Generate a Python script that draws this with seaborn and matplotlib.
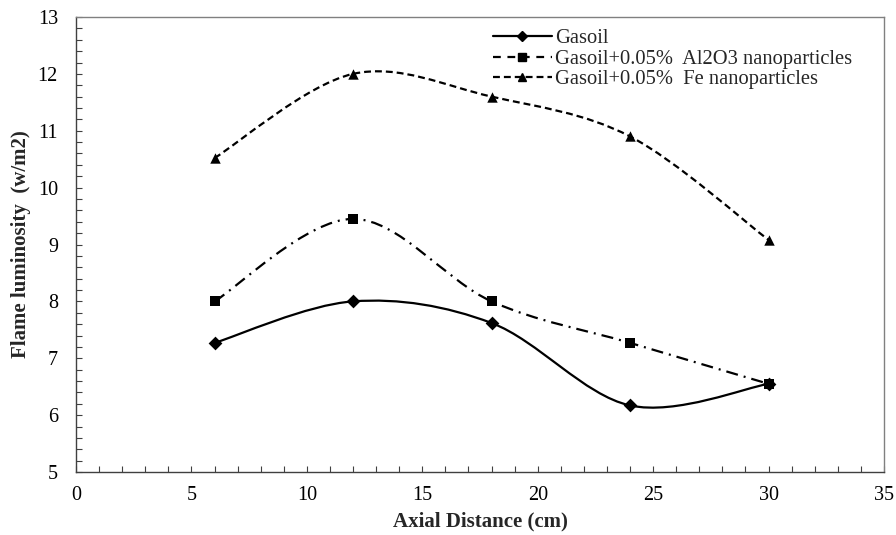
import numpy as np
import pandas as pd
import matplotlib
matplotlib.use("Agg")
import matplotlib.pyplot as plt
import seaborn as sns
from matplotlib.path import Path
from matplotlib.patches import PathPatch
from matplotlib.lines import Line2D
from matplotlib.ticker import MultipleLocator

# values
distance = [6, 12, 18, 24, 30]
gasoil = [7.27, 8.0, 7.62, 6.17, 6.55]
gasoil_al2o3 = [8.0, 9.45, 8.0, 7.27, 6.55]
gasoil_fe = [10.52, 12.0, 11.6, 10.9, 9.08]

labels = ["Gasoil", "Gasoil+0.05%  Al2O3 nanoparticles", "Gasoil+0.05%  Fe nanoparticles"]


def smooth_path(xs, ys):
    # Excel-like smoothed line: cubic Bezier segments through the points
    pts = np.column_stack([xs, ys]).astype(float)
    n = len(pts)
    verts = [pts[0]]
    codes = [Path.MOVETO]
    for i in range(n - 1):
        p0 = pts[i - 1] if i > 0 else pts[i]
        p1 = pts[i]
        p2 = pts[i + 1]
        p3 = pts[i + 2] if i + 2 < n else pts[i + 1]
        c1 = p1 + (p2 - p0) / 6.0
        c2 = p2 - (p3 - p1) / 6.0
        verts += [c1, c2, p2]
        codes += [Path.CURVE4] * 3
    return Path(verts, codes)


sns.set_style("white")
plt.rcParams["font.family"] = ["Liberation Serif", "DejaVu Serif"]

df = pd.DataFrame({"distance": distance, labels[0]: gasoil,
                   labels[1]: gasoil_al2o3, labels[2]: gasoil_fe})

fig = plt.figure(figsize=(8.96, 5.35), dpi=100)
ax = fig.add_axes([76 / 896, 1 - 472 / 535, 808 / 896, 455 / 535])

styles = {
    labels[0]: dict(ls="-", leg_ls="-", marker="D", ms=7),
    labels[1]: dict(ls=(0, (5.4, 2.7, 0.9, 2.7)), leg_ls=(0, (3.5, 3)), marker="s", ms=7),
    labels[2]: dict(ls=(0, (3.1, 1.8)), leg_ls=(0, (3.1, 1.8)), marker="^", ms=7.5),
}

handles = []
for lab in labels:
    st = styles[lab]
    patch = PathPatch(smooth_path(df["distance"], df[lab]), facecolor="none",
                      edgecolor="black", lw=1.6, linestyle=st["ls"])
    ax.add_patch(patch)
    sns.scatterplot(data=df, x="distance", y=lab, marker=st["marker"], s=st["ms"] ** 2,
                    color="black", edgecolor="black", linewidth=0, ax=ax, zorder=3)
    handles.append(Line2D([], [], color="black", lw=1.6, linestyle=st["leg_ls"],
                          marker=st["marker"], ms=st["ms"] * 0.75))

ax.set_xlim(0, 35)
ax.set_ylim(5, 13)
ax.xaxis.set_major_locator(MultipleLocator(5))
ax.xaxis.set_minor_locator(MultipleLocator(1))
ax.yaxis.set_major_locator(MultipleLocator(1))
ax.yaxis.set_minor_locator(MultipleLocator(0.2))
ax.tick_params(which="both", direction="in", length=4, width=0.8, colors="#404040",
               labelcolor="black", labelsize=14.5, top=False, right=False,
               bottom=True, left=True)
ax.tick_params(axis="x", pad=10)
ax.tick_params(axis="y", pad=13)

for side in ["left", "bottom"]:
    ax.spines[side].set_color("#404040")
    ax.spines[side].set_linewidth(1.0)
for side in ["top", "right"]:
    ax.spines[side].set_color("#808080")
    ax.spines[side].set_linewidth(1.0)

ax.set_xlabel("Axial Distance (cm)", fontsize=15, fontweight="bold", labelpad=5)
ax.set_ylabel("Flame luminosity  (w/m2)", fontsize=15, fontweight="bold", labelpad=5)

leg = fig.legend(handles, labels, loc="upper left", bbox_to_anchor=(493 / 896, 1 - 29 / 535),
                 fontsize=14.8, frameon=False, handlelength=2.85,
                 handletextpad=0.15, borderaxespad=0, borderpad=0, labelspacing=0.05)

fig.savefig("out.png", dpi=100)
